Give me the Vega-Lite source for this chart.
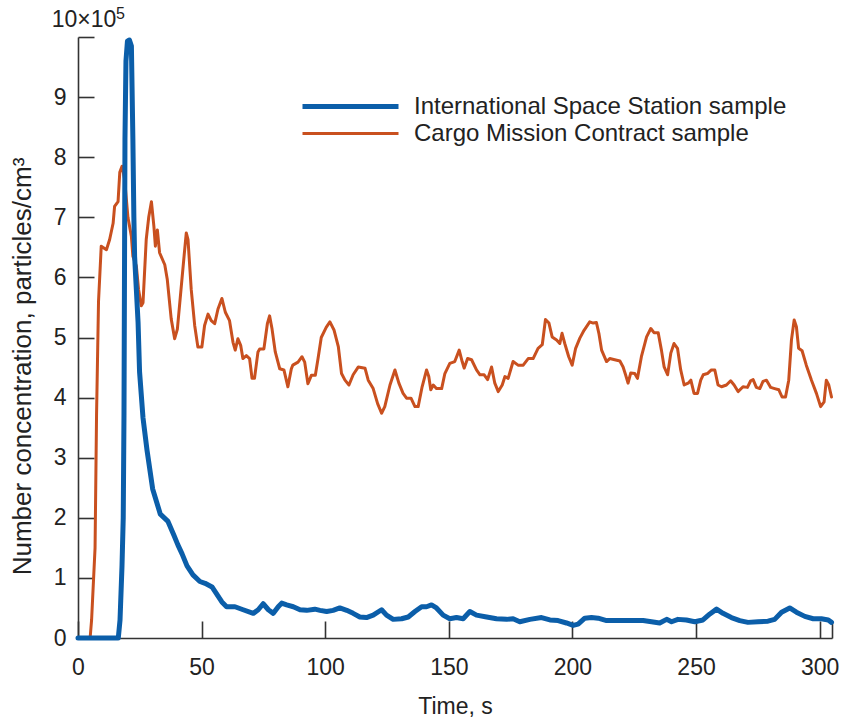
{
  "$schema": "https://vega.github.io/schema/vega-lite/v6.json",
  "width": 754,
  "height": 601,
  "autosize": {"type": "none"},
  "padding": {"left": 78, "top": 37, "right": 12, "bottom": 81},
  "background": "white",
  "config": {
    "view": {"stroke": null},
    "font": "Liberation Sans",
    "axis": {
      "domainColor": "#333333",
      "domainWidth": 1.6,
      "tickColor": "#333333",
      "tickWidth": 1.6,
      "labelColor": "#222222",
      "labelFont": "Liberation Sans",
      "labelFontSize": 23,
      "titleFont": "Liberation Sans",
      "titleFontSize": 23,
      "titleFontWeight": "normal",
      "titleColor": "#222222",
      "grid": false,
      "labelOverlap": false
    }
  },
  "datasets": {
    "series": [
      {"s": "CMC", "t": 0, "v": 0}, {"s": "CMC", "t": 4.9, "v": 0}, {"s": "CMC", "t": 5.5, "v": 0.3}, {"s": "CMC", "t": 6.9, "v": 1.5}, {"s": "CMC", "t": 7.5, "v": 3.7}, {"s": "CMC", "t": 8.3, "v": 5.6}, {"s": "CMC", "t": 9.4, "v": 6.52}, {"s": "CMC", "t": 11.5, "v": 6.46}, {"s": "CMC", "t": 12.8, "v": 6.63}, {"s": "CMC", "t": 14.2, "v": 6.9}, {"s": "CMC", "t": 14.8, "v": 7.18}, {"s": "CMC", "t": 16.2, "v": 7.26}, {"s": "CMC", "t": 16.9, "v": 7.75}, {"s": "CMC", "t": 17.8, "v": 7.85}, {"s": "CMC", "t": 18.9, "v": 7.62}, {"s": "CMC", "t": 20.2, "v": 7.0}, {"s": "CMC", "t": 21.6, "v": 6.68}, {"s": "CMC", "t": 22.2, "v": 6.35}, {"s": "CMC", "t": 23.6, "v": 6.19}, {"s": "CMC", "t": 24.5, "v": 5.8}, {"s": "CMC", "t": 25.6, "v": 5.53}, {"s": "CMC", "t": 26.3, "v": 5.58}, {"s": "CMC", "t": 27.6, "v": 6.63}, {"s": "CMC", "t": 28.6, "v": 7.0}, {"s": "CMC", "t": 29.7, "v": 7.26}, {"s": "CMC", "t": 30.7, "v": 6.85}, {"s": "CMC", "t": 31.3, "v": 6.52}, {"s": "CMC", "t": 32.1, "v": 6.79}, {"s": "CMC", "t": 33.0, "v": 6.41}, {"s": "CMC", "t": 35.1, "v": 6.21}, {"s": "CMC", "t": 36.1, "v": 5.97}, {"s": "CMC", "t": 37.7, "v": 5.31}, {"s": "CMC", "t": 39.1, "v": 4.98}, {"s": "CMC", "t": 40.2, "v": 5.14}, {"s": "CMC", "t": 41.8, "v": 5.86}, {"s": "CMC", "t": 42.9, "v": 6.35}, {"s": "CMC", "t": 43.8, "v": 6.74}, {"s": "CMC", "t": 44.5, "v": 6.63}, {"s": "CMC", "t": 45.8, "v": 5.8}, {"s": "CMC", "t": 47.2, "v": 5.2}, {"s": "CMC", "t": 48.5, "v": 4.84}, {"s": "CMC", "t": 50.1, "v": 4.84}, {"s": "CMC", "t": 51.2, "v": 5.2}, {"s": "CMC", "t": 52.6, "v": 5.39}, {"s": "CMC", "t": 53.9, "v": 5.28}, {"s": "CMC", "t": 55.3, "v": 5.23}, {"s": "CMC", "t": 56.6, "v": 5.47}, {"s": "CMC", "t": 58.2, "v": 5.65}, {"s": "CMC", "t": 59.6, "v": 5.42}, {"s": "CMC", "t": 61.3, "v": 5.28}, {"s": "CMC", "t": 62.7, "v": 4.92}, {"s": "CMC", "t": 63.6, "v": 4.79}, {"s": "CMC", "t": 64.7, "v": 4.98}, {"s": "CMC", "t": 65.8, "v": 4.87}, {"s": "CMC", "t": 66.7, "v": 4.65}, {"s": "CMC", "t": 68.1, "v": 4.7}, {"s": "CMC", "t": 69.4, "v": 4.65}, {"s": "CMC", "t": 70.4, "v": 4.32}, {"s": "CMC", "t": 71.4, "v": 4.32}, {"s": "CMC", "t": 72.8, "v": 4.76}, {"s": "CMC", "t": 73.5, "v": 4.81}, {"s": "CMC", "t": 75.2, "v": 4.81}, {"s": "CMC", "t": 76.6, "v": 5.23}, {"s": "CMC", "t": 77.5, "v": 5.36}, {"s": "CMC", "t": 78.5, "v": 5.14}, {"s": "CMC", "t": 79.8, "v": 4.76}, {"s": "CMC", "t": 81.6, "v": 4.48}, {"s": "CMC", "t": 83.3, "v": 4.46}, {"s": "CMC", "t": 84.9, "v": 4.18}, {"s": "CMC", "t": 86.3, "v": 4.48}, {"s": "CMC", "t": 86.9, "v": 4.54}, {"s": "CMC", "t": 89.0, "v": 4.59}, {"s": "CMC", "t": 90.6, "v": 4.68}, {"s": "CMC", "t": 91.7, "v": 4.59}, {"s": "CMC", "t": 93.0, "v": 4.23}, {"s": "CMC", "t": 94.4, "v": 4.37}, {"s": "CMC", "t": 96.0, "v": 4.37}, {"s": "CMC", "t": 97.1, "v": 4.65}, {"s": "CMC", "t": 98.4, "v": 5.0}, {"s": "CMC", "t": 100.4, "v": 5.17}, {"s": "CMC", "t": 101.9, "v": 5.26}, {"s": "CMC", "t": 103.6, "v": 5.12}, {"s": "CMC", "t": 105.3, "v": 4.85}, {"s": "CMC", "t": 106.6, "v": 4.4}, {"s": "CMC", "t": 108.0, "v": 4.29}, {"s": "CMC", "t": 109.6, "v": 4.21}, {"s": "CMC", "t": 111.3, "v": 4.38}, {"s": "CMC", "t": 113.4, "v": 4.51}, {"s": "CMC", "t": 116.1, "v": 4.49}, {"s": "CMC", "t": 117.4, "v": 4.29}, {"s": "CMC", "t": 119.4, "v": 4.15}, {"s": "CMC", "t": 121.2, "v": 3.9}, {"s": "CMC", "t": 122.8, "v": 3.74}, {"s": "CMC", "t": 124.1, "v": 3.85}, {"s": "CMC", "t": 126.2, "v": 4.21}, {"s": "CMC", "t": 128.2, "v": 4.46}, {"s": "CMC", "t": 129.8, "v": 4.24}, {"s": "CMC", "t": 131.5, "v": 4.07}, {"s": "CMC", "t": 132.9, "v": 3.99}, {"s": "CMC", "t": 134.7, "v": 3.99}, {"s": "CMC", "t": 136.3, "v": 3.85}, {"s": "CMC", "t": 137.6, "v": 3.85}, {"s": "CMC", "t": 139.2, "v": 4.18}, {"s": "CMC", "t": 141.0, "v": 4.46}, {"s": "CMC", "t": 141.9, "v": 4.35}, {"s": "CMC", "t": 142.7, "v": 4.13}, {"s": "CMC", "t": 143.7, "v": 4.21}, {"s": "CMC", "t": 145.0, "v": 4.15}, {"s": "CMC", "t": 147.1, "v": 4.15}, {"s": "CMC", "t": 148.4, "v": 4.4}, {"s": "CMC", "t": 150.4, "v": 4.57}, {"s": "CMC", "t": 152.4, "v": 4.6}, {"s": "CMC", "t": 154.2, "v": 4.79}, {"s": "CMC", "t": 155.4, "v": 4.6}, {"s": "CMC", "t": 156.2, "v": 4.49}, {"s": "CMC", "t": 157.6, "v": 4.65}, {"s": "CMC", "t": 159.2, "v": 4.63}, {"s": "CMC", "t": 161.2, "v": 4.46}, {"s": "CMC", "t": 162.6, "v": 4.38}, {"s": "CMC", "t": 164.3, "v": 4.38}, {"s": "CMC", "t": 165.7, "v": 4.3}, {"s": "CMC", "t": 167.3, "v": 4.51}, {"s": "CMC", "t": 168.6, "v": 4.24}, {"s": "CMC", "t": 170.0, "v": 4.1}, {"s": "CMC", "t": 171.6, "v": 4.21}, {"s": "CMC", "t": 172.7, "v": 4.35}, {"s": "CMC", "t": 174.0, "v": 4.32}, {"s": "CMC", "t": 176.0, "v": 4.6}, {"s": "CMC", "t": 178.0, "v": 4.54}, {"s": "CMC", "t": 180.1, "v": 4.54}, {"s": "CMC", "t": 182.1, "v": 4.65}, {"s": "CMC", "t": 184.1, "v": 4.65}, {"s": "CMC", "t": 186.1, "v": 4.82}, {"s": "CMC", "t": 187.8, "v": 4.88}, {"s": "CMC", "t": 189.1, "v": 5.3}, {"s": "CMC", "t": 190.5, "v": 5.24}, {"s": "CMC", "t": 191.8, "v": 5.01}, {"s": "CMC", "t": 193.6, "v": 4.96}, {"s": "CMC", "t": 194.9, "v": 4.9}, {"s": "CMC", "t": 195.8, "v": 5.07}, {"s": "CMC", "t": 196.9, "v": 4.9}, {"s": "CMC", "t": 198.5, "v": 4.68}, {"s": "CMC", "t": 199.9, "v": 4.54}, {"s": "CMC", "t": 201.3, "v": 4.82}, {"s": "CMC", "t": 203.0, "v": 4.99}, {"s": "CMC", "t": 204.7, "v": 5.12}, {"s": "CMC", "t": 207.0, "v": 5.26}, {"s": "CMC", "t": 208.4, "v": 5.24}, {"s": "CMC", "t": 209.7, "v": 5.25}, {"s": "CMC", "t": 210.7, "v": 5.07}, {"s": "CMC", "t": 211.8, "v": 4.79}, {"s": "CMC", "t": 213.8, "v": 4.6}, {"s": "CMC", "t": 215.1, "v": 4.65}, {"s": "CMC", "t": 217.1, "v": 4.63}, {"s": "CMC", "t": 219.2, "v": 4.61}, {"s": "CMC", "t": 220.5, "v": 4.51}, {"s": "CMC", "t": 221.5, "v": 4.38}, {"s": "CMC", "t": 222.5, "v": 4.24}, {"s": "CMC", "t": 223.6, "v": 4.41}, {"s": "CMC", "t": 225.2, "v": 4.4}, {"s": "CMC", "t": 226.3, "v": 4.32}, {"s": "CMC", "t": 227.9, "v": 4.68}, {"s": "CMC", "t": 230.0, "v": 5.01}, {"s": "CMC", "t": 231.7, "v": 5.15}, {"s": "CMC", "t": 233.0, "v": 5.08}, {"s": "CMC", "t": 234.7, "v": 5.08}, {"s": "CMC", "t": 236.0, "v": 4.79}, {"s": "CMC", "t": 237.1, "v": 4.51}, {"s": "CMC", "t": 238.5, "v": 4.38}, {"s": "CMC", "t": 239.8, "v": 4.74}, {"s": "CMC", "t": 241.1, "v": 4.9}, {"s": "CMC", "t": 242.5, "v": 4.82}, {"s": "CMC", "t": 243.8, "v": 4.46}, {"s": "CMC", "t": 245.2, "v": 4.21}, {"s": "CMC", "t": 246.8, "v": 4.24}, {"s": "CMC", "t": 247.9, "v": 4.29}, {"s": "CMC", "t": 249.2, "v": 4.07}, {"s": "CMC", "t": 250.6, "v": 4.07}, {"s": "CMC", "t": 251.9, "v": 4.29}, {"s": "CMC", "t": 252.9, "v": 4.38}, {"s": "CMC", "t": 254.6, "v": 4.4}, {"s": "CMC", "t": 256.2, "v": 4.46}, {"s": "CMC", "t": 257.6, "v": 4.46}, {"s": "CMC", "t": 258.9, "v": 4.21}, {"s": "CMC", "t": 260.3, "v": 4.18}, {"s": "CMC", "t": 262.3, "v": 4.21}, {"s": "CMC", "t": 264.0, "v": 4.28}, {"s": "CMC", "t": 265.4, "v": 4.21}, {"s": "CMC", "t": 267.0, "v": 4.1}, {"s": "CMC", "t": 269.0, "v": 4.18}, {"s": "CMC", "t": 270.8, "v": 4.17}, {"s": "CMC", "t": 272.1, "v": 4.28}, {"s": "CMC", "t": 273.1, "v": 4.3}, {"s": "CMC", "t": 274.4, "v": 4.17}, {"s": "CMC", "t": 275.8, "v": 4.15}, {"s": "CMC", "t": 277.1, "v": 4.27}, {"s": "CMC", "t": 278.5, "v": 4.29}, {"s": "CMC", "t": 280.2, "v": 4.17}, {"s": "CMC", "t": 281.8, "v": 4.15}, {"s": "CMC", "t": 283.5, "v": 4.13}, {"s": "CMC", "t": 284.8, "v": 4.01}, {"s": "CMC", "t": 286.2, "v": 4.01}, {"s": "CMC", "t": 287.5, "v": 4.29}, {"s": "CMC", "t": 288.6, "v": 4.96}, {"s": "CMC", "t": 289.7, "v": 5.29}, {"s": "CMC", "t": 290.6, "v": 5.18}, {"s": "CMC", "t": 291.5, "v": 4.82}, {"s": "CMC", "t": 292.9, "v": 4.78}, {"s": "CMC", "t": 294.6, "v": 4.54}, {"s": "CMC", "t": 296.7, "v": 4.29}, {"s": "CMC", "t": 298.7, "v": 4.07}, {"s": "CMC", "t": 300.4, "v": 3.85}, {"s": "CMC", "t": 301.8, "v": 3.93}, {"s": "CMC", "t": 302.7, "v": 4.29}, {"s": "CMC", "t": 303.7, "v": 4.21}, {"s": "CMC", "t": 304.8, "v": 4.01},
      {"s": "ISS", "t": 0, "v": 0}, {"s": "ISS", "t": 16.3, "v": 0}, {"s": "ISS", "t": 17.0, "v": 0.3}, {"s": "ISS", "t": 17.8, "v": 1.2}, {"s": "ISS", "t": 18.3, "v": 2.0}, {"s": "ISS", "t": 18.6, "v": 3.7}, {"s": "ISS", "t": 19.0, "v": 8.3}, {"s": "ISS", "t": 19.4, "v": 9.6}, {"s": "ISS", "t": 20.0, "v": 9.93}, {"s": "ISS", "t": 20.8, "v": 9.95}, {"s": "ISS", "t": 21.6, "v": 9.85}, {"s": "ISS", "t": 22.2, "v": 8.3}, {"s": "ISS", "t": 22.6, "v": 7.0}, {"s": "ISS", "t": 22.9, "v": 6.35}, {"s": "ISS", "t": 23.6, "v": 5.8}, {"s": "ISS", "t": 24.3, "v": 5.25}, {"s": "ISS", "t": 24.9, "v": 4.43}, {"s": "ISS", "t": 26.3, "v": 3.66}, {"s": "ISS", "t": 27.9, "v": 3.13}, {"s": "ISS", "t": 30.2, "v": 2.48}, {"s": "ISS", "t": 33.3, "v": 2.06}, {"s": "ISS", "t": 36.4, "v": 1.94}, {"s": "ISS", "t": 38.8, "v": 1.71}, {"s": "ISS", "t": 40.4, "v": 1.55}, {"s": "ISS", "t": 42.1, "v": 1.4}, {"s": "ISS", "t": 44.1, "v": 1.2}, {"s": "ISS", "t": 46.5, "v": 1.05}, {"s": "ISS", "t": 49.3, "v": 0.94}, {"s": "ISS", "t": 51.4, "v": 0.91}, {"s": "ISS", "t": 54.2, "v": 0.85}, {"s": "ISS", "t": 56.6, "v": 0.7}, {"s": "ISS", "t": 58.2, "v": 0.6}, {"s": "ISS", "t": 60.1, "v": 0.52}, {"s": "ISS", "t": 63.5, "v": 0.52}, {"s": "ISS", "t": 66.8, "v": 0.47}, {"s": "ISS", "t": 70.9, "v": 0.41}, {"s": "ISS", "t": 72.9, "v": 0.47}, {"s": "ISS", "t": 74.9, "v": 0.57}, {"s": "ISS", "t": 77.0, "v": 0.47}, {"s": "ISS", "t": 79.0, "v": 0.41}, {"s": "ISS", "t": 81.0, "v": 0.52}, {"s": "ISS", "t": 82.4, "v": 0.58}, {"s": "ISS", "t": 84.4, "v": 0.55}, {"s": "ISS", "t": 87.1, "v": 0.52}, {"s": "ISS", "t": 89.8, "v": 0.47}, {"s": "ISS", "t": 92.5, "v": 0.46}, {"s": "ISS", "t": 95.8, "v": 0.48}, {"s": "ISS", "t": 97.9, "v": 0.46}, {"s": "ISS", "t": 100.6, "v": 0.44}, {"s": "ISS", "t": 103.2, "v": 0.46}, {"s": "ISS", "t": 105.9, "v": 0.5}, {"s": "ISS", "t": 108.7, "v": 0.46}, {"s": "ISS", "t": 111.3, "v": 0.41}, {"s": "ISS", "t": 114.0, "v": 0.35}, {"s": "ISS", "t": 116.7, "v": 0.34}, {"s": "ISS", "t": 119.4, "v": 0.38}, {"s": "ISS", "t": 122.8, "v": 0.47}, {"s": "ISS", "t": 124.8, "v": 0.38}, {"s": "ISS", "t": 127.5, "v": 0.31}, {"s": "ISS", "t": 130.9, "v": 0.32}, {"s": "ISS", "t": 133.6, "v": 0.35}, {"s": "ISS", "t": 136.3, "v": 0.44}, {"s": "ISS", "t": 139.0, "v": 0.52}, {"s": "ISS", "t": 141.0, "v": 0.52}, {"s": "ISS", "t": 143.0, "v": 0.55}, {"s": "ISS", "t": 145.0, "v": 0.5}, {"s": "ISS", "t": 147.7, "v": 0.38}, {"s": "ISS", "t": 150.4, "v": 0.32}, {"s": "ISS", "t": 153.1, "v": 0.34}, {"s": "ISS", "t": 155.8, "v": 0.32}, {"s": "ISS", "t": 158.5, "v": 0.44}, {"s": "ISS", "t": 161.2, "v": 0.38}, {"s": "ISS", "t": 165.3, "v": 0.35}, {"s": "ISS", "t": 169.3, "v": 0.32}, {"s": "ISS", "t": 173.4, "v": 0.31}, {"s": "ISS", "t": 176.0, "v": 0.32}, {"s": "ISS", "t": 178.7, "v": 0.27}, {"s": "ISS", "t": 182.8, "v": 0.31}, {"s": "ISS", "t": 187.5, "v": 0.34}, {"s": "ISS", "t": 190.9, "v": 0.3}, {"s": "ISS", "t": 194.2, "v": 0.29}, {"s": "ISS", "t": 197.6, "v": 0.25}, {"s": "ISS", "t": 200.3, "v": 0.21}, {"s": "ISS", "t": 202.3, "v": 0.23}, {"s": "ISS", "t": 205.0, "v": 0.33}, {"s": "ISS", "t": 207.7, "v": 0.34}, {"s": "ISS", "t": 210.4, "v": 0.33}, {"s": "ISS", "t": 213.8, "v": 0.29}, {"s": "ISS", "t": 218.5, "v": 0.29}, {"s": "ISS", "t": 223.9, "v": 0.29}, {"s": "ISS", "t": 228.6, "v": 0.29}, {"s": "ISS", "t": 232.0, "v": 0.27}, {"s": "ISS", "t": 235.3, "v": 0.25}, {"s": "ISS", "t": 238.1, "v": 0.31}, {"s": "ISS", "t": 240.1, "v": 0.27}, {"s": "ISS", "t": 242.7, "v": 0.31}, {"s": "ISS", "t": 246.1, "v": 0.3}, {"s": "ISS", "t": 249.5, "v": 0.27}, {"s": "ISS", "t": 252.8, "v": 0.3}, {"s": "ISS", "t": 255.6, "v": 0.4}, {"s": "ISS", "t": 258.3, "v": 0.48}, {"s": "ISS", "t": 260.9, "v": 0.41}, {"s": "ISS", "t": 264.3, "v": 0.34}, {"s": "ISS", "t": 267.7, "v": 0.29}, {"s": "ISS", "t": 271.0, "v": 0.26}, {"s": "ISS", "t": 275.1, "v": 0.27}, {"s": "ISS", "t": 279.1, "v": 0.28}, {"s": "ISS", "t": 281.8, "v": 0.31}, {"s": "ISS", "t": 284.6, "v": 0.43}, {"s": "ISS", "t": 287.9, "v": 0.5}, {"s": "ISS", "t": 290.6, "v": 0.43}, {"s": "ISS", "t": 294.0, "v": 0.36}, {"s": "ISS", "t": 297.4, "v": 0.32}, {"s": "ISS", "t": 300.7, "v": 0.32}, {"s": "ISS", "t": 303.5, "v": 0.3}, {"s": "ISS", "t": 304.8, "v": 0.26}
    ]
  },
  "layer": [
    {
      "data": {"name": "series"},
      "mark": {"type": "line", "strokeCap": "round", "strokeJoin": "round"},
      "encoding": {
        "x": {
          "field": "t", "type": "quantitative",
          "scale": {"domain": [0, 305], "nice": false, "zero": false},
          "axis": {
            "values": [0, 50, 100, 150, 200, 250, 300, 305],
            "format": "d",
            "labelExpr": "datum.value == 305 ? '' : datum.label",
            "tickSize": -17,
            "labelPadding": 35,
            "labelFlush": false,
            "title": "Time, s",
            "titleY": 75,
            "titleBaseline": "alphabetic"
          }
        },
        "y": {
          "field": "v", "type": "quantitative",
          "scale": {"domain": [0, 10], "nice": false},
          "axis": {
            "values": [0, 1, 2, 3, 4, 5, 6, 7, 8, 9, 10],
            "format": "d",
            "labelExpr": "datum.value == 10 ? '' : datum.label",
            "tickSize": -16,
            "labelPadding": 28,
            "title": "Number concentration, particles/cm³",
            "titleFontSize": 26,
            "titleX": -56,
            "titleY": 329,
            "titleAlign": "center",
            "titleBaseline": "middle",
            "titleAngle": -90
          }
        },
        "color": {
          "field": "s", "type": "nominal",
          "scale": {"domain": ["ISS", "CMC"], "range": ["#0b5ea9", "#c9501f"]},
          "legend": {
            "orient": "none",
            "legendX": 258,
            "legendY": 55,
            "title": null,
            "padding": 0,
            "symbolType": "M-4,0H4",
            "symbolSize": 576,
            "symbolStrokeWidth": 4,
            "labelFont": "Liberation Sans",
            "labelFontSize": 24,
            "labelColor": "#222222",
            "labelOffset": 49,
            "labelLimit": 600,
            "rowPadding": 1,
            "labelExpr": "datum.label == 'ISS' ? 'International Space Station sample' : 'Cargo Mission Contract sample'"
          }
        },
        "strokeWidth": {
          "field": "s", "type": "nominal",
          "scale": {"domain": ["ISS", "CMC"], "range": [5, 3]},
          "legend": null
        }
      }
    },
    {
      "data": {"values": [{}]},
      "mark": {"type": "text", "font": "Liberation Sans", "fontSize": 23, "color": "#222222", "align": "center", "baseline": "alphabetic", "dx": 6, "dy": -10},
      "encoding": {
        "x": {"datum": 0, "type": "quantitative"},
        "y": {"datum": 10, "type": "quantitative"},
        "text": {"value": "10×10"}
      }
    },
    {
      "data": {"values": [{}]},
      "mark": {"type": "text", "font": "Liberation Sans", "fontSize": 16, "color": "#222222", "align": "left", "baseline": "alphabetic", "dx": 38, "dy": -18},
      "encoding": {
        "x": {"datum": 0, "type": "quantitative"},
        "y": {"datum": 10, "type": "quantitative"},
        "text": {"value": "5"}
      }
    }
  ]
}
